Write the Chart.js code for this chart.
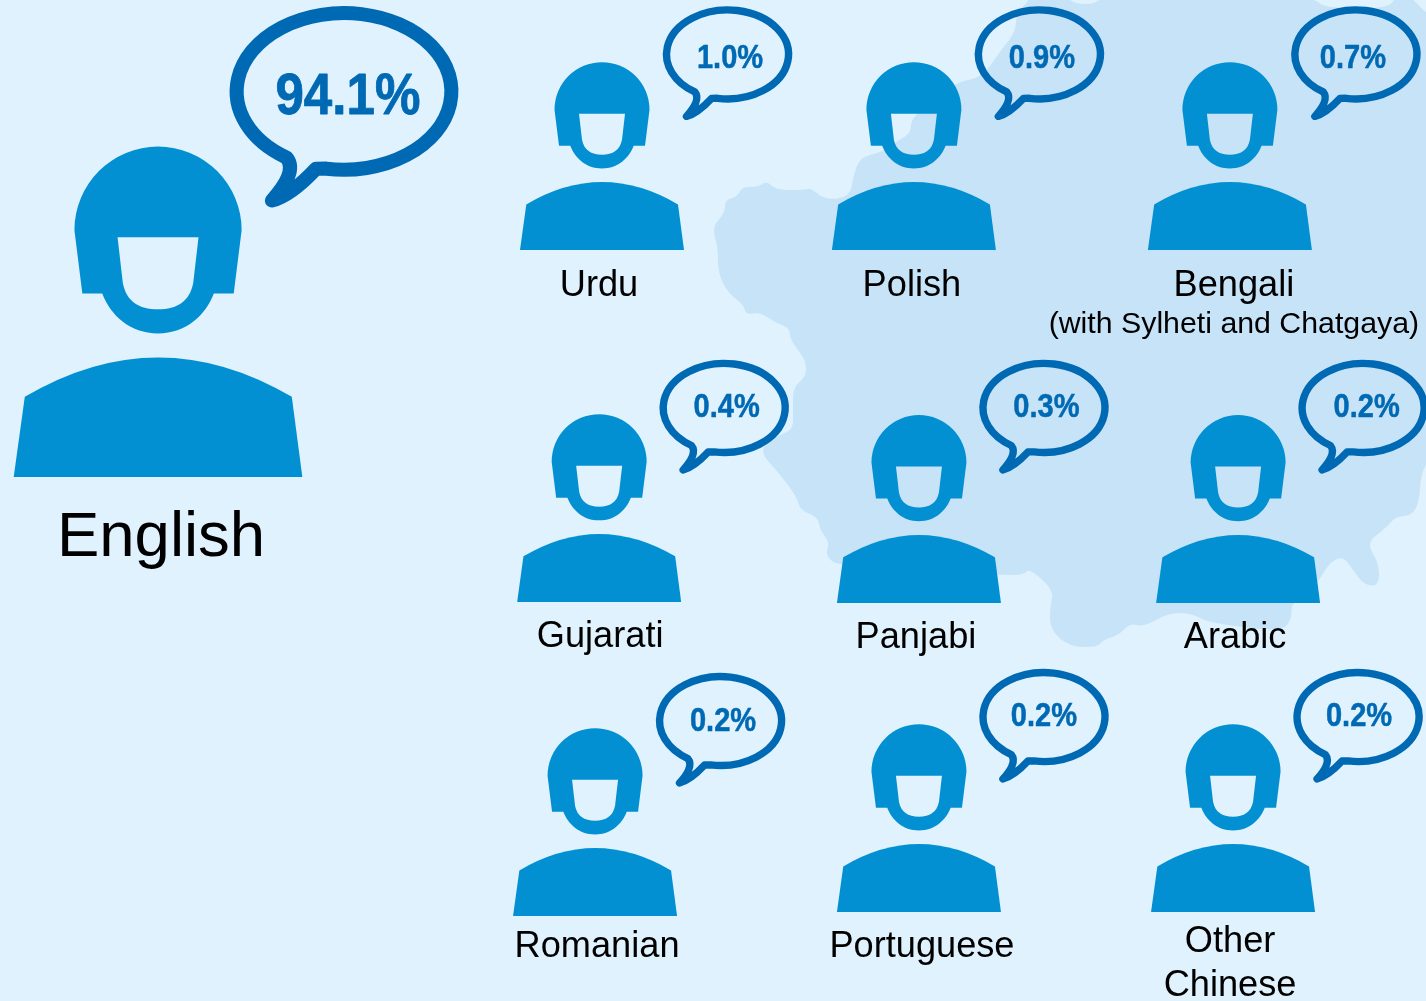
<!DOCTYPE html>
<html>
<head>
<meta charset="utf-8">
<style>
  html, body { margin: 0; padding: 0; background: #dff2fe; }
  canvas { display: block; }
</style>
<script src="https://cdn.jsdelivr.net/npm/chart.js@4"></script>
</head>
<body>
<canvas id="speakers" width="1426" height="1001"></canvas>
<script>
// values
const languages = ["English", "Urdu", "Polish", "Bengali", "Gujarati", "Panjabi", "Arabic", "Romanian", "Portuguese", "Other Chinese"];
const shares = [94.1, 1.0, 0.9, 0.7, 0.4, 0.3, 0.2, 0.2, 0.2, 0.2];

// where each person stands, in grid columns and rows
const slotCol = [-0.405, 1, 1.987, 2.987, 0.991, 2.003, 3.013, 0.978, 2.003, 2.997];
const slotRow = [1.684, 1, 1, 1, 2.06, 2.063, 2.063, 3.006, 2.994, 2.994];
const iconScale = [1.76, 1, 1, 1, 1, 1, 1, 1, 1, 1];

// label tweaks
const labelLines = [["English"], ["Urdu"], ["Polish"], ["Bengali"], ["Gujarati"], ["Panjabi"], ["Arabic"], ["Romanian"], ["Portuguese"], ["Other", "Chinese"]];
const labelNudgeX = [3, -3, -2, 4, 1, -3, -3, 2, 3, -3];
const labelNudgeY = [79, 46, 46, 46, 45, 45, 45, 41, 45, 40];
const bengaliNote = "(with Sylheti and Chatgaya)";

// bubble position from the person, and percentage position from the bubble
const bubbleOffsetX = [186, 125.5, 125.5, 126, 125, 125, 125, 125.5, 125, 125];
const bubbleOffsetY = [-385.7, -195.6, -195.6, -195.6, -194, -195, -195, -195, -195, -195];
const textNudgeX = [2.2, 2.5, 2.5, -3, 2.5, 2.5, 3.5, 2.5, 0, 1];
const textNudgeY = [13, 14, 14, 14, 9, 9, 9, 10, 9, 9];

const colours = { bg: "#dff2fe", map: "#c6e3f7", person: "#0290d2", bubble: "#0069b4", text: "#000" };

const mapOutline = [
  [1030,-4],[1027,3],[1017,12],[1015,33],[1001,50],[982,78],[955,82],[911,117],[911,133],[899,140],[883,152],[860,157],[853,177],[850,197],
  [825,200],[811,188],[804,190],[776,190],[767,181],[758,187],[742,187],[737,197],[725,200],[725,213],[712,227],[718,247],[718,273],[728,293],
  [744,305],[746,315],[760,312],[774,322],[790,328],[790,340],[806,360],[806,377],[793,387],[793,412],[793,430],[779,435],[758,450],[779,473],
  [797,497],[800,510],[818,517],[820,530],[830,543],[825,555],[839,567],[1001,575],[1024,575],[1029,568],[1054,590],[1050,607],[1050,630],
  [1070,647],[1098,647],[1103,640],[1119,635],[1130,623],[1144,627],[1168,613],[1191,613],[1209,623],[1283,632],[1292,617],[1291,603],[1318,583],
  [1329,563],[1343,556],[1353,570],[1364,585],[1379,586],[1379,563],[1366,543],[1386,528],[1396,516],[1411,516],[1419,503],[1421,473],[1430,458],
  [1430,13],[1426,13],[1410,-4],[1397,-4],[1387,9],[1323,8],[1313,-4],
  [1103,-4],[1095,4],[1075,4],[1065,-4]
];

function drawMap(ctx) {
  const pts = mapOutline;
  ctx.beginPath();
  let sx = (pts[0][0] + pts[pts.length - 1][0]) / 2;
  let sy = (pts[0][1] + pts[pts.length - 1][1]) / 2;
  ctx.moveTo(sx, sy);
  for (let i = 0; i < pts.length; i++) {
    const next = pts[(i + 1) % pts.length];
    ctx.quadraticCurveTo(pts[i][0], pts[i][1], (pts[i][0] + next[0]) / 2, (pts[i][1] + next[1]) / 2);
  }
  ctx.closePath();
  ctx.fillStyle = colours.map;
  ctx.fill();
}

// origin is the middle of the person's base line
function drawPerson(ctx) {
  ctx.fillStyle = colours.person;
  ctx.beginPath();
  ctx.moveTo(-75.7, -45.6);
  ctx.quadraticCurveTo(0, -90.4, 76, -45.6);
  ctx.lineTo(82, 0);
  ctx.lineTo(-82, 0);
  ctx.closePath();
  ctx.fill();

  ctx.beginPath();
  ctx.moveTo(-43, -104.3);
  ctx.lineTo(-47.5, -140.3);
  ctx.arc(0, -140.3, 47.5, Math.PI, 0);
  ctx.lineTo(43, -104.3);
  ctx.lineTo(31.7, -104.3);
  ctx.bezierCurveTo(27, -92, 16, -81.6, 0, -81.6);
  ctx.bezierCurveTo(-16, -81.6, -27, -92, -31.7, -104.3);
  ctx.closePath();
  // face is a hole so the map shows through
  ctx.moveTo(-23, -136.3);
  ctx.lineTo(23, -136.3);
  ctx.lineTo(20, -110.3);
  ctx.bezierCurveTo(18, -100, 11, -95.3, 0, -95.3);
  ctx.bezierCurveTo(-11, -95.3, -18, -100, -20, -110.3);
  ctx.closePath();
  ctx.fill("evenodd");
}

// origin is the bubble centre
function drawBubble(ctx, text, textX, textY, lineWidth) {
  const rx = 61, ry = 44.5;
  const tailRight = 99.4 * Math.PI / 180;
  const tailLeft = 122.4 * Math.PI / 180;
  ctx.strokeStyle = colours.bubble;
  ctx.lineWidth = lineWidth;
  ctx.lineJoin = "round";
  ctx.lineCap = "round";
  ctx.beginPath();
  ctx.ellipse(0, 0, rx, ry, 0, tailRight, tailLeft, true);
  ctx.quadraticCurveTo(-29, 42, -32, 49);
  ctx.quadraticCurveTo(-34, 54, -41, 62);
  ctx.quadraticCurveTo(-30, 59, -16, 44);
  ctx.closePath();
  ctx.stroke();

  ctx.save();
  ctx.translate(textX, textY);
  ctx.scale(0.88, 1);
  ctx.fillStyle = colours.bubble;
  ctx.strokeStyle = colours.bubble;
  ctx.lineWidth = 0.5;
  ctx.font = "bold 33px 'Liberation Sans'";
  ctx.textAlign = "center";
  ctx.textBaseline = "alphabetic";
  ctx.fillText(text, 0, 0);
  ctx.strokeText(text, 0, 0);
  ctx.restore();
}

const peoplePlugin = {
  id: "people",
  beforeDraw(chart) {
    const ctx = chart.ctx;
    ctx.save();
    ctx.fillStyle = colours.bg;
    ctx.fillRect(0, 0, chart.width, chart.height);
    drawMap(ctx);
    ctx.restore();
  },
  afterDatasetsDraw(chart) {
    const ctx = chart.ctx;
    chart.getDatasetMeta(0).data.forEach((pt, i) => {
      const s = iconScale[i];
      ctx.save();
      ctx.translate(pt.x, pt.y);
      ctx.scale(s, s);
      drawPerson(ctx);
      ctx.translate(bubbleOffsetX[i] / s, bubbleOffsetY[i] / s);
      drawBubble(ctx, shares[i].toFixed(1) + "%", textNudgeX[i], textNudgeY[i], i === 0 ? 8 : 7.4);
      ctx.restore();

      ctx.save();
      ctx.fillStyle = colours.text;
      ctx.textAlign = "center";
      ctx.textBaseline = "alphabetic";
      ctx.font = (i === 0 ? 63.5 : 36.2) + "px 'Liberation Sans'";
      labelLines[i].forEach((line, k) => {
        ctx.fillText(line, pt.x + labelNudgeX[i], pt.y + labelNudgeY[i] + k * 44);
      });
      if (languages[i] === "Bengali") {
        ctx.font = "30.3px 'Liberation Sans'";
        ctx.fillText(bengaliNote, pt.x + labelNudgeX[i], pt.y + 83);
      }
      ctx.restore();
    });
  }
};

new Chart(document.getElementById("speakers"), {
  type: "scatter",
  data: {
    labels: languages,
    datasets: [{
      label: "Main language",
      data: languages.map((_, i) => ({ x: slotCol[i], y: slotRow[i] })),
      pointRadius: 0
    }]
  },
  options: {
    responsive: false,
    animation: false,
    layout: { padding: 0 },
    plugins: { legend: { display: false }, tooltip: { enabled: false } },
    scales: {
      x: { type: "linear", display: false, min: -0.9051, max: 3.6076 },
      y: { type: "linear", display: false, reverse: true, min: 0.247, max: 3.262 }
    }
  },
  plugins: [peoplePlugin]
});
</script>
</body>
</html>
